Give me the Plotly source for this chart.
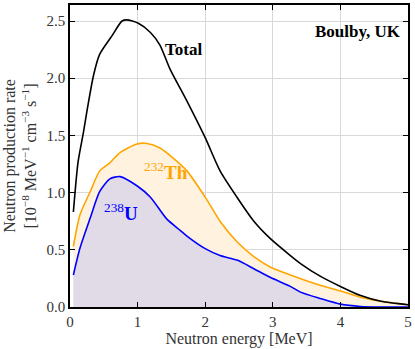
import plotly.graph_objects as go

# Neutron spectra (energy in MeV, rate in 1e-8 MeV^-1 cm^-3 s^-1)
energy_total = [0.05, 0.12, 0.2, 0.25, 0.35, 0.44, 0.62, 0.77, 0.84, 1.01, 1.19, 1.33, 1.48,
                1.73, 2.0, 2.22, 2.47, 2.72, 2.96, 3.26, 3.41, 3.70, 4.0, 4.30, 4.6, 5.0]
rate_total = [0.83, 1.27, 1.53, 1.71, 2.03, 2.21, 2.37, 2.50, 2.51, 2.48, 2.40, 2.29, 2.08,
              1.80, 1.48, 1.19, 0.96, 0.75, 0.60, 0.45, 0.38, 0.27, 0.18, 0.10, 0.05, 0.02]

energy_th = [0.05, 0.15, 0.30, 0.44, 0.59, 0.74, 0.99, 1.14, 1.33, 1.53, 1.73, 2.0, 2.22,
             2.47, 2.72, 2.96, 3.26, 3.70, 4.0, 4.30, 4.6, 5.0]
rate_th = [0.53, 0.81, 1.01, 1.19, 1.26, 1.35, 1.425, 1.43, 1.39, 1.30, 1.19, 0.96, 0.75,
           0.57, 0.44, 0.35, 0.28, 0.19, 0.14, 0.085, 0.05, 0.02]

energy_u = [0.05, 0.15, 0.30, 0.44, 0.59, 0.74, 0.99, 1.19, 1.43, 1.63, 1.73, 2.0, 2.22,
            2.47, 2.72, 2.96, 3.26, 3.41, 3.70, 4.0, 4.30, 4.6, 5.0]
rate_u = [0.28, 0.52, 0.78, 1.01, 1.12, 1.14, 1.06, 0.96, 0.77, 0.67, 0.62, 0.51, 0.45,
          0.41, 0.335, 0.26, 0.18, 0.13, 0.075, 0.025, 0.005, 0.0, 0.0]

x_ticks = [0, 1, 2, 3, 4, 5]
y_ticks = [0.0, 0.5, 1.0, 1.5, 2.0, 2.5]

serif = "Liberation Serif, DejaVu Serif, serif"

fig = go.Figure()
fig.add_trace(go.Scatter(x=energy_th, y=rate_th, mode='lines',
                         line=dict(color='#ffa500', width=1.6, shape='spline', smoothing=0.7),
                         fill='tozeroy', fillcolor='#fff3e0', name='232Th'))
fig.add_trace(go.Scatter(x=energy_u, y=rate_u, mode='lines',
                         line=dict(color='#0000ff', width=1.6, shape='spline', smoothing=0.7),
                         fill='tozeroy', fillcolor='#e1dbe8', name='238U'))
fig.add_trace(go.Scatter(x=energy_total, y=rate_total, mode='lines',
                         line=dict(color='black', width=1.6, shape='spline', smoothing=0.7),
                         name='Total'))

# Curve labels
fig.add_annotation(x=1.38, y=2.25, text="<b>Total</b>", showarrow=False, xanchor='left',
                   font=dict(color='black', size=17, family=serif))
fig.add_annotation(x=1.06, y=1.19, text="<sup>232</sup><b>Th</b>", showarrow=False, xanchor='left',
                   font=dict(color='#ffa500', size=19, family=serif))
fig.add_annotation(x=0.48, y=0.83, text="<sup>238</sup><b>U</b>", showarrow=False, xanchor='left',
                   font=dict(color='#0000ff', size=19, family=serif))
fig.add_annotation(x=4.93, y=2.41, text="<b>Boulby, UK</b>", showarrow=False, xanchor='right',
                   font=dict(color='black', size=17, family=serif))

axis_common = dict(showline=True, linecolor='black', linewidth=1.5, mirror='allticks',
                   ticks='inside', ticklen=5, tickcolor='black', tickwidth=1,
                   showgrid=True, gridcolor='#d9d9d9', gridwidth=1, zeroline=False,
                   tickfont=dict(size=15, family=serif, color='#333'))

fig.update_layout(
    width=415, height=349,
    margin=dict(l=70, r=7, t=3, b=42),
    plot_bgcolor='white', paper_bgcolor='white',
    showlegend=False,
    font=dict(family=serif, color='#333'),
    xaxis=dict(range=[0, 5], tickvals=x_ticks, ticktext=[str(v) for v in x_ticks],
               title=dict(text="Neutron energy [MeV]", font=dict(size=16, family=serif), standoff=3),
               **axis_common),
    yaxis=dict(range=[0, 2.64], tickvals=y_ticks, ticktext=[f"{v:.1f}" for v in y_ticks],
               title=dict(text="Neutron production rate<br>[10<sup>−8</sup> MeV<sup>−1</sup> cm<sup>−3</sup> s<sup>−1</sup>]",
                          font=dict(size=16, family=serif), standoff=6),
               **axis_common),
)

# drop the browser's default body margin so the figure sits at the page corner
fig.write_html("out.html", config={'displayModeBar': False},
               post_script="document.body.style.margin='0';")
